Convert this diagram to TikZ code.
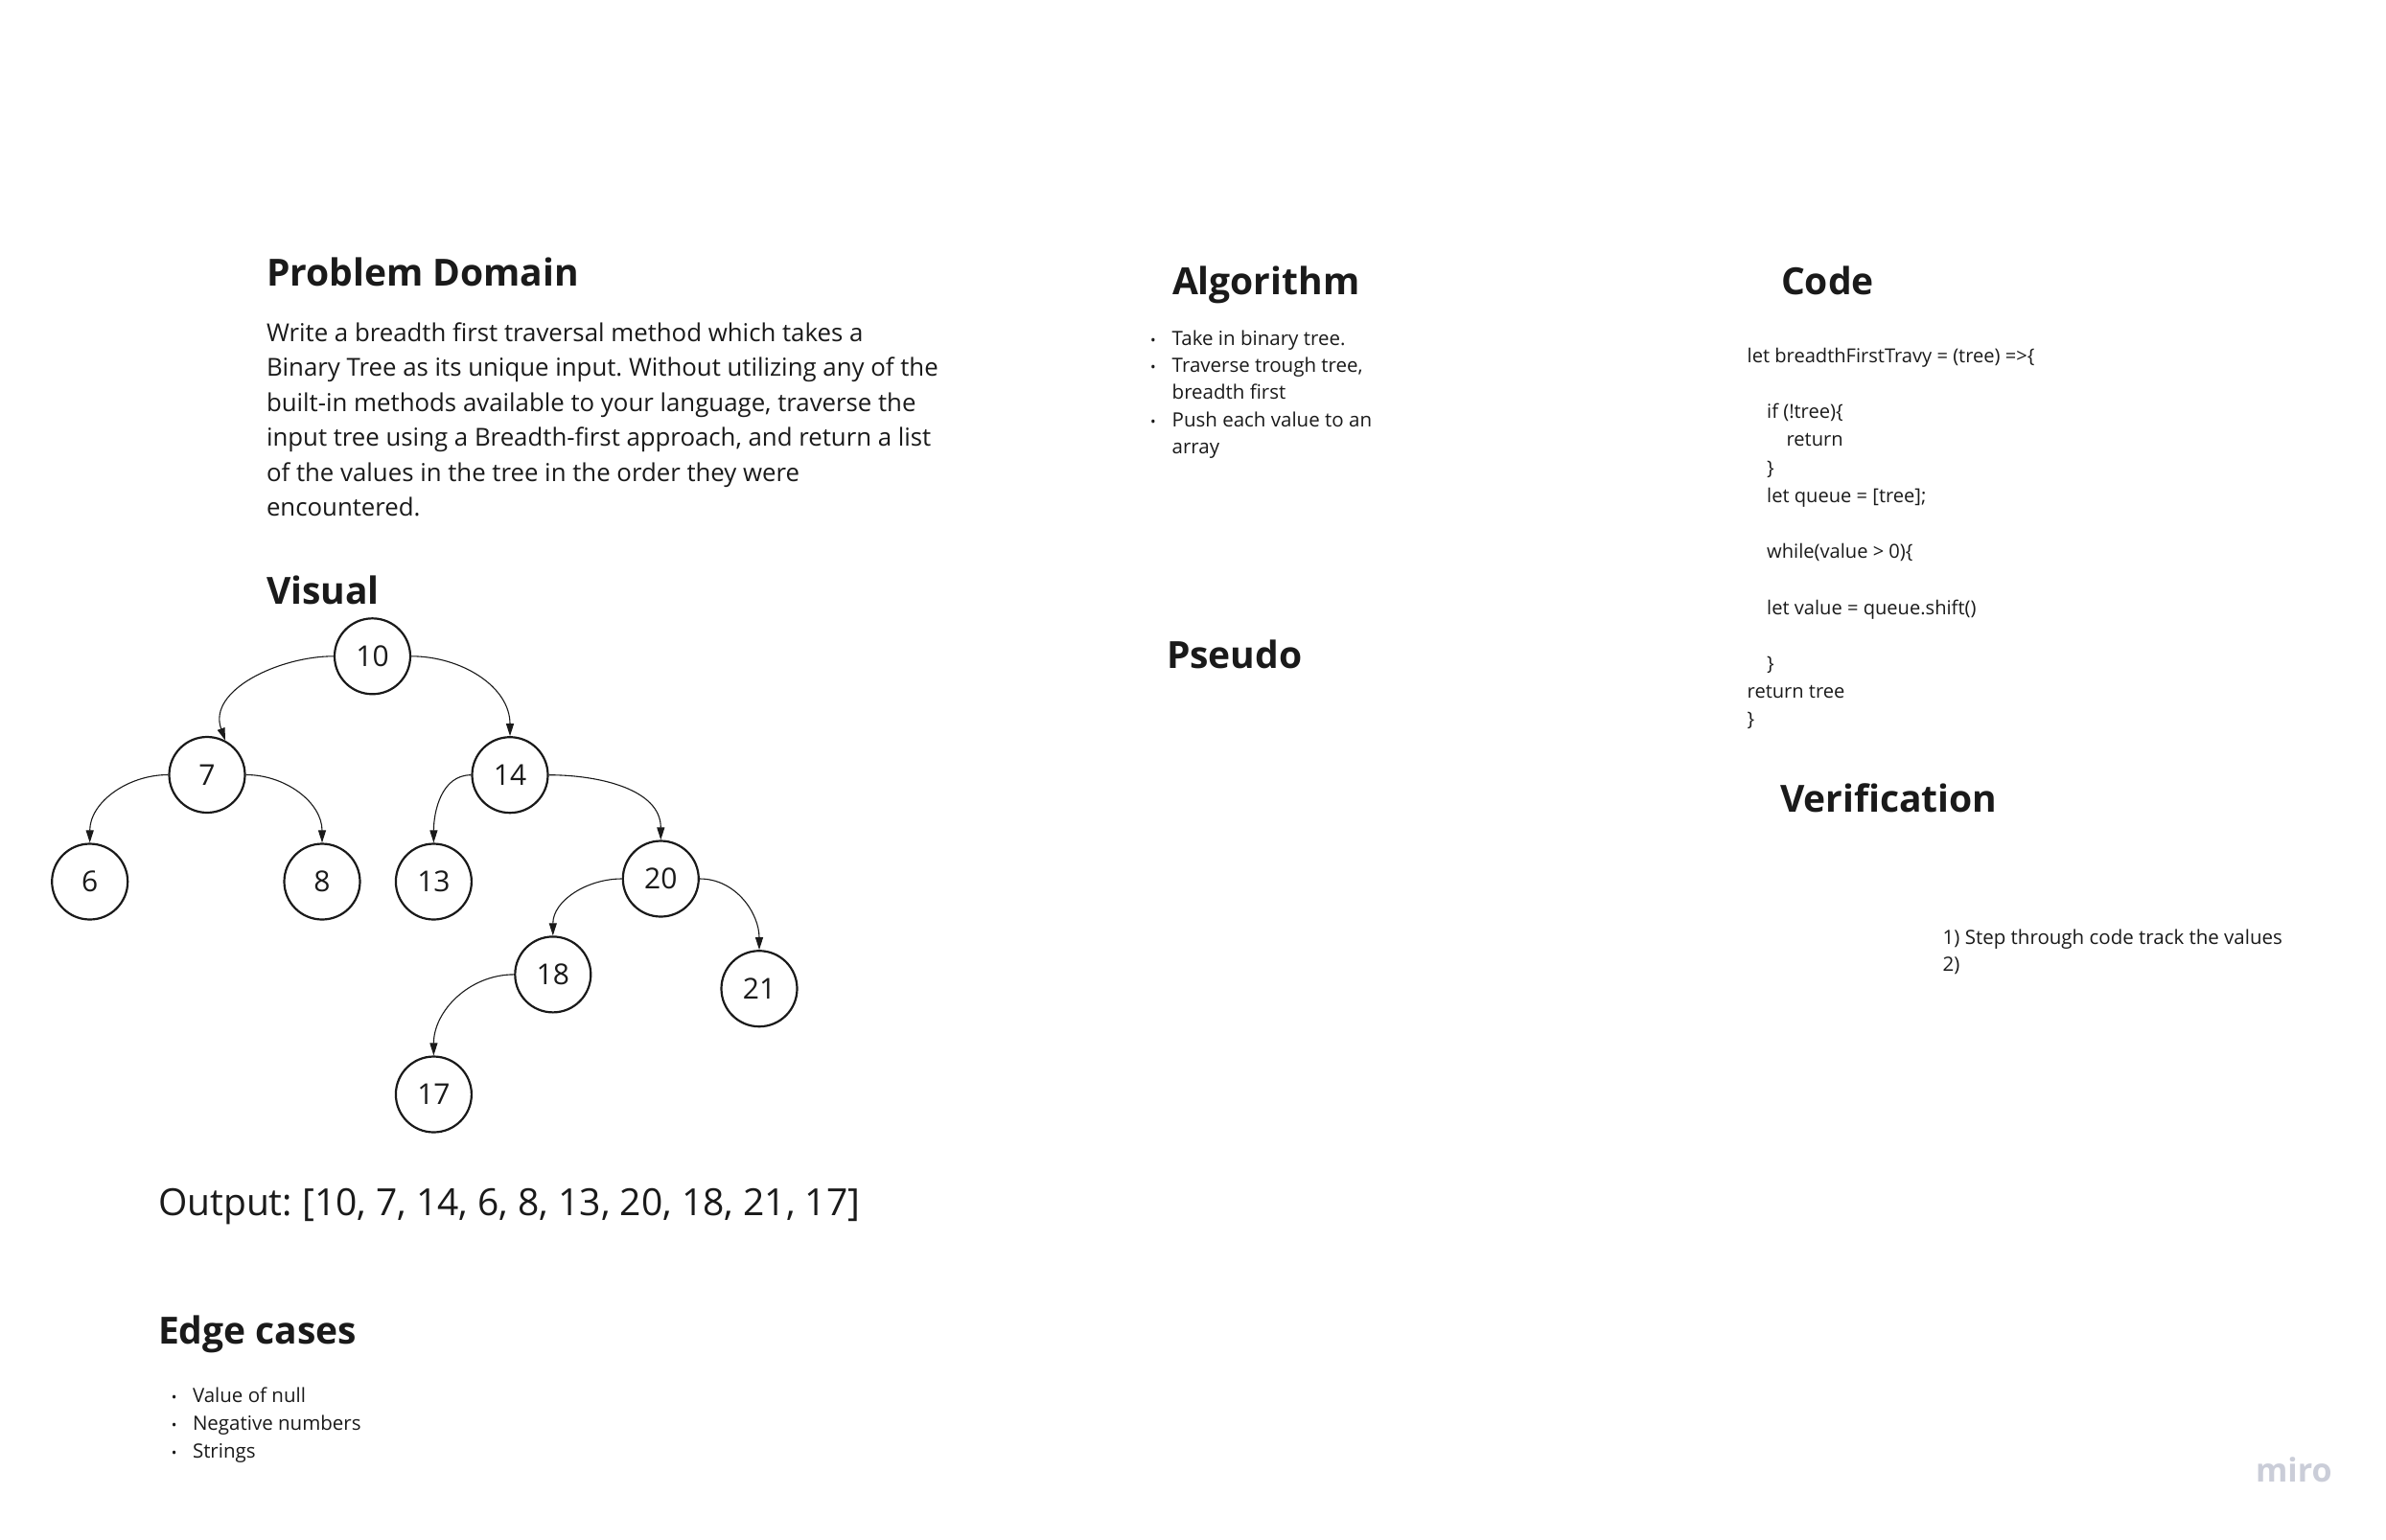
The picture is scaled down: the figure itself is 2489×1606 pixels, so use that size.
\documentclass[tikz,border=0pt]{standalone}
\usepackage{fontspec}
\setmainfont{Open Sans}
\usetikzlibrary{arrows.meta}
\definecolor{ink}{RGB}{26,26,26}
\definecolor{mirogray}{RGB}{202,205,216}
\frenchspacing
\begin{document}
\begin{tikzpicture}[x=1pt,y=1pt,
  txt/.style={anchor=base west, inner sep=0, outer sep=0, text=ink},
  head/.style={txt, font=\fontsize{39}{47}\selectfont\bfseries},
  body/.style={txt, font=\fontsize{25.8}{36.5}\selectfont},
  small/.style={txt, font=\fontsize{20.5}{28.5}\selectfont},
  codeline/.style={txt, font=\fontsize{20.1}{29}\selectfont},
  bul/.style={anchor=base, inner sep=0, outer sep=0, text=ink, font=\fontsize{15}{15}\selectfont},
  tnode/.style={circle, draw=ink, line width=2.2pt, minimum size=79pt, inner sep=0, font=\fontsize{30}{30}\selectfont, text=ink},
  edge/.style={draw=ink, line width=1.1pt, -{Triangle[length=13pt,width=8pt]}},
]
\useasboundingbox (0,0) rectangle (2489,-1606);
\fill[white] (0,0) rectangle (2489,-1606);

% Problem Domain
\node[head] (hpd) at (278,-298) {Problem Domain};
\foreach \t [count=\i from 0] in {Write a breadth first traversal method which takes a, Binary Tree as its unique input. Without utilizing any of the, {built-in methods available to your language, traverse the}, {input tree using a Breadth-first approach, and return a list}, of the values in the tree in the order they were, encountered.}
  \node[body] (pd\i) at (278,-356-36.5*\i) {\t};

% Algorithm
\node[head] (halg) at (1223,-307) {Algorithm};
\node[bul] (ab1) at (1203,-360) {•};
\node[small] (al1) at (1222.7,-360) {Take in binary tree.};
\node[bul] (ab2) at (1203,-388.3) {•};
\node[small] (al2) at (1222.7,-388.3) {Traverse trough tree,};
\node[small] (al3) at (1222.7,-416.6) {breadth first};
\node[bul] (ab4) at (1203,-445) {•};
\node[small] (al4) at (1222.7,-445) {Push each value to an};
\node[small] (al5) at (1222.7,-473.3) {array};

% Pseudo
\node[head] (hps) at (1217,-697) {Pseudo};

% Code
\node[head] (hcode) at (1858,-307) {Code};
\node[codeline] (c0) at (1822.7,-378.3) {let breadthFirstTravy = (tree) =>\{};
\node[codeline] (c2) at (1843.2,-378.3-29.2*2) {if (!tree)\{};
\node[codeline] (c3) at (1863.6,-378.3-29.2*3) {return};
\node[codeline] (c4) at (1843.2,-378.3-29.2*4) {\}};
\node[codeline] (c5) at (1843.2,-378.3-29.2*5) {let queue = [tree];};
\node[codeline] (c7) at (1843.2,-378.3-29.2*7) {while(value > 0)\{};
\node[codeline] (c9) at (1843.2,-378.3-29.2*9) {let value = queue.shift()};
\node[codeline] (c11) at (1843.2,-378.3-29.2*11) {\}};
\node[codeline] (c12) at (1822.7,-378.3-29.2*12) {return tree};
\node[codeline] (c13) at (1822.7,-378.3-29.2*13) {\}};

% Verification
\node[head] (hver) at (1857,-847) {Verification};
\node[small] (v1) at (2026.7,-985) {1) Step through code track the values};
\node[small] (v2) at (2026.7,-1013.5) {2)};

% Visual
\node[head] (hvis) at (278,-630) {Visual};
\node[tnode] (n10) at (388.5,-684.8) {10};
\node[tnode] (n7)  at (216,-808.5) {7};
\node[tnode] (n14) at (532,-808.7) {14};
\node[tnode] (n6)  at (93.7,-920) {6};
\node[tnode] (n8)  at (336,-920) {8};
\node[tnode] (n13) at (452.4,-920) {13};
\node[tnode] (n20) at (689.3,-917) {20};
\node[tnode] (n18) at (576.8,-1016.9) {18};
\node[tnode] (n21) at (792,-1031.7) {21};
\node[tnode] (n17) at (452.4,-1142) {17};

\draw[edge] (n10.west) to[out=180,in=110] (n7.62);
\draw[edge] (n10.east) to[out=0,in=90] (n14.north);
\draw[edge] (n7.west) to[out=180,in=90] (n6.north);
\draw[edge] (n7.east) to[out=0,in=90] (n8.north);
\draw[edge] (n14.west) to[out=180,in=90] (n13.north);
\draw[edge] (n14.east) to[out=0,in=90] (n20.north);
\draw[edge] (n20.west) to[out=180,in=90] (n18.north);
\draw[edge] (n20.east) to[out=0,in=90] (n21.north);
\draw[edge] (n18.west) to[out=180,in=90] (n17.north);

% Output
\node[txt, font=\fontsize{39}{47}\selectfont] (out) at (165,-1268.3) {Output: [10, 7, 14, 6, 8, 13, 20, 18, 21, 17]};

% Edge cases
\node[head] (hedge) at (165,-1402) {Edge cases};
\node[bul] (eb1) at (181.6,-1463) {•};
\node[small] (e1) at (201,-1463) {Value of null};
\node[bul] (eb2) at (181.6,-1492) {•};
\node[small] (e2) at (201,-1492) {Negative numbers};
\node[bul] (eb3) at (181.6,-1521) {•};
\node[small] (e3) at (201,-1521) {Strings};

% miro mark
\node[txt, text=mirogray, font=\fontsize{34}{40}\selectfont\bfseries] (miro) at (2353,-1546) {miro};
\end{tikzpicture}
\end{document}
